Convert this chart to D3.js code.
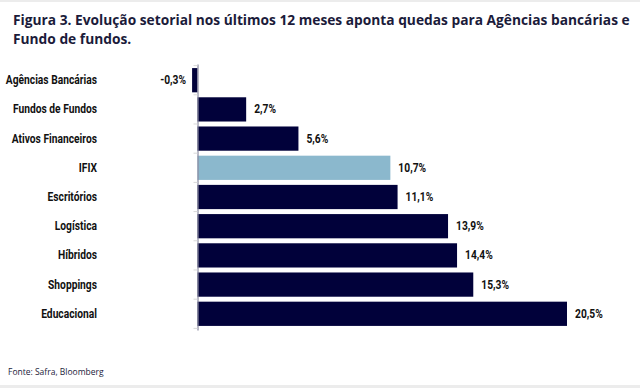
<!DOCTYPE html>
<html>
<head>
<meta charset="utf-8">
<script src="https://cdn.jsdelivr.net/npm/d3@7"></script>
<style>
  body { margin: 0; background: #fff; }
  svg { display: block; }
</style>
</head>
<body>
<svg id="chart" width="640" height="388"></svg>
<script>
// dados
const setores = ["Agências Bancárias", "Fundos de Fundos", "Ativos Financeiros", "IFIX",
  "Escritórios", "Logística", "Híbridos", "Shoppings", "Educacional"];
const valores = [-0.3, 2.7, 5.6, 10.7, 11.1, 13.9, 14.4, 15.3, 20.5];
const destaque = "IFIX";

const svg = d3.select("#chart");

// faixas cinza em cima e embaixo
svg.append("rect").attr("x", 0).attr("y", 0).attr("width", 640).attr("height", 2).attr("fill", "#ececec");
svg.append("rect").attr("x", 0).attr("y", 385).attr("width", 640).attr("height", 3).attr("fill", "#ececec");

// título
const titulo = svg.append("text")
  .attr("x", 13).attr("y", 25)
  .attr("font-family", "'Open Sans', sans-serif")
  .attr("font-weight", 700)
  .attr("font-size", 14.3)
  .attr("fill", "#1b1b3a");
const linha1 = titulo.append("tspan").attr("x", 13).text("Figura 3. Evolução setorial nos últimos 12 meses aponta quedas para Agências bancárias e");
titulo.append("tspan").attr("x", 13).attr("dy", 19).text("Fundo de fundos.");
// ajusta o tamanho para caber na largura do original
const larg = linha1.node().getComputedTextLength();
titulo.attr("font-size", 14.3 * 617 / larg);

const x = d3.scaleLinear().domain([0, 20.5]).range([197.5, 567]);
const y = d3.scaleBand().domain(setores).range([64, 330]).paddingInner(0.17).paddingOuter(0.14);

// barras
svg.selectAll(".bar")
  .data(setores)
  .enter()
  .append("rect")
  .attr("class", "bar")
  .attr("x", (d, i) => x(Math.min(0, valores[i])))
  .attr("y", d => y(d))
  .attr("width", (d, i) => Math.abs(x(valores[i]) - x(0)))
  .attr("height", y.bandwidth())
  .attr("fill", d => d === destaque ? "#8bb8cd" : "#01013a");

// eixo vertical
const eixo = svg.append("g").attr("transform", `translate(${x(0)},0)`)
  .call(d3.axisLeft(y).tickSize(0).tickFormat(""));
eixo.select(".domain").attr("stroke", "#8a8aa0").attr("stroke-width", 1.2);

// pequenas marcas entre categorias
svg.selectAll(".marca")
  .data(d3.range(setores.length + 1))
  .enter()
  .append("line")
  .attr("x1", x(0) - 4).attr("x2", x(0))
  .attr("y1", i => y(setores[0]) - 2.5 + i * y.step())
  .attr("y2", i => y(setores[0]) - 2.5 + i * y.step())
  .attr("stroke", "#d8d8d8");

// texto estreito, como no original
const estreito = 0.855;

// nomes dos setores
svg.selectAll(".rotulo")
  .data(setores)
  .enter()
  .append("text")
  .attr("transform", d => `translate(97,${y(d) + y.bandwidth() / 2 + 4}) scale(${estreito},1)`)
  .attr("text-anchor", "end")
  .attr("font-family", "Roboto, sans-serif")
  .attr("font-weight", 700)
  .attr("font-size", 12)
  .attr("fill", "#111")
  .text(d => d);

// valores
svg.selectAll(".valor")
  .data(setores)
  .enter()
  .append("text")
  .attr("transform", (d, i) => {
    const px = valores[i] < 0 ? x(valores[i]) - 6 : x(valores[i]) + 8;
    return `translate(${px},${y(d) + y.bandwidth() / 2 + 4}) scale(${estreito},1)`;
  })
  .attr("text-anchor", (d, i) => valores[i] < 0 ? "end" : "start")
  .attr("font-family", "Roboto, sans-serif")
  .attr("font-weight", 700)
  .attr("font-size", 12)
  .attr("fill", "#111")
  .text((d, i) => d3.format(".1f")(valores[i]).replace(".", ",").replace("−", "-") + "%");

// fonte
svg.append("text")
  .attr("x", 8).attr("y", 375)
  .attr("font-family", "'Open Sans', sans-serif")
  .attr("font-size", 8.5)
  .attr("fill", "#1b1b3a")
  .text("Fonte: Safra, Bloomberg");
</script>
</body>
</html>
